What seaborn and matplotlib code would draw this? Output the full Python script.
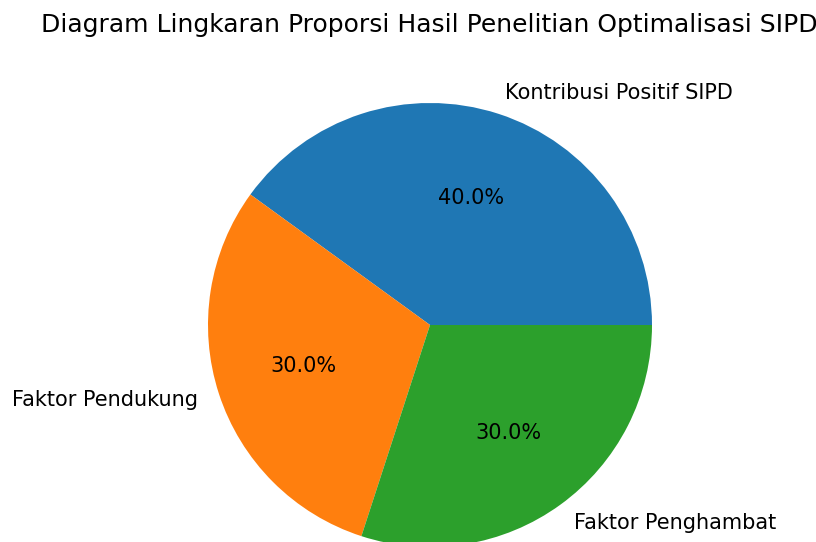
import matplotlib
matplotlib.use("Agg")
import matplotlib.pyplot as plt
import seaborn as sns

labels = ["Kontribusi Positif SIPD", "Faktor Pendukung", "Faktor Penghambat"]
values = [40, 30, 30]

sns.set_style("white")
plt.rcParams["text.color"] = "black"
colors = sns.color_palette("tab10", 3)

fig = plt.figure(figsize=(8.16, 5.42), dpi=100)
# pie centre around (430, 325) px, radius ~222 px
size = 555
ax = fig.add_axes([(430 - size / 2) / 816, (217 - size / 2) / 542, size / 816, size / 542])
ax.pie(values, labels=labels, colors=colors, autopct="%1.1f%%",
       textprops={"fontsize": 15, "color": "black"},
       wedgeprops={"edgecolor": "none", "linewidth": 0})
fig.text(429 / 816, 1 - 25 / 542,
         "Diagram Lingkaran Proporsi Hasil Penelitian Optimalisasi SIPD",
         fontsize=18, ha="center", va="center", color="black")
fig.savefig("out.png", dpi=100)
